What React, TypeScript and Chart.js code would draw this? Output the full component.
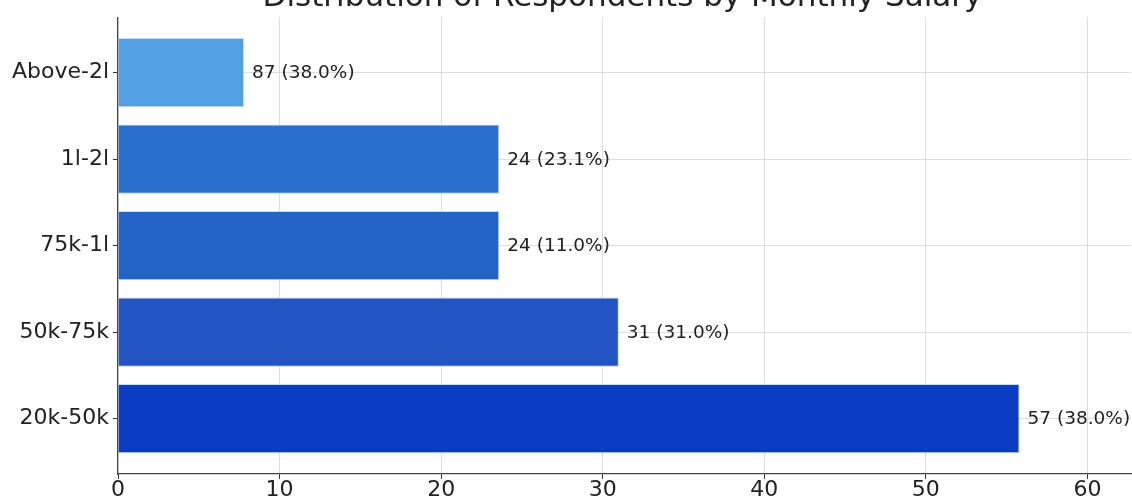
import React, { useEffect, useRef } from "react";
import { Chart, registerables } from "chart.js";

Chart.register(...registerables);

// bottom-to-top order (index 0 at the bottom)
const categories = ["20k-50k", "50k-75k", "75k-1l", "1l-2l", "Above-2l"];
const barValues = [55.8, 31.0, 23.6, 23.6, 7.8];
const labelCounts = [57, 31, 24, 24, 87];
const labelPercents = ["38.0%", "31.0%", "11.0%", "23.1%", "38.0%"];
const barColors = ["#0A3CC3", "#2255C3", "#2564C7", "#2A6FCB", "#52A0E3"];
const xTicks = [0, 10, 20, 30, 40, 50, 60];
const titleText = "Distribution of Respondents by Monthly Salary";

const FONT = "'DejaVu Sans', 'Noto Sans', sans-serif";

export default function App() {
  const ref = useRef<HTMLCanvasElement | null>(null);

  useEffect(() => {
    if (!ref.current) return;
    const titlePlugin = {
      id: "cutTitle",
      afterDraw(chart: any) {
        const { ctx, chartArea } = chart;
        ctx.save();
        ctx.font = `31px ${FONT}`;
        ctx.fillStyle = "#222";
        ctx.textAlign = "center";
        ctx.textBaseline = "alphabetic";
        ctx.fillText(titleText, (chartArea.left + chartArea.right) / 2 - 2, 6);
        ctx.restore();
      },
    };
    const barLabelPlugin = {
      id: "barLabels",
      afterDatasetsDraw(chart: any) {
        const { ctx } = chart;
        const meta = chart.getDatasetMeta(0);
        ctx.save();
        ctx.font = `18.5px ${FONT}`;
        ctx.fillStyle = "#222";
        ctx.textAlign = "left";
        ctx.textBaseline = "middle";
        meta.data.forEach((el: any, i: number) => {
          ctx.fillText(`${labelCounts[i]} (${labelPercents[i]})`, el.x + 8, el.y + 1);
        });
        ctx.restore();
      },
    };

    const chart = new Chart(ref.current, {
      type: "bar",
      data: {
        datasets: [
          {
            data: barValues.map((v, i) => ({ x: v, y: i })),
            backgroundColor: barColors,
            borderColor: "rgba(190,215,250,0.9)",
            borderWidth: 1,
            barPercentage: 1,
            categoryPercentage: 0.8,
          },
        ],
      },
      options: {
        indexAxis: "y",
        animation: false,
        responsive: false,
        layout: { padding: { top: 15, right: 1, left: 0, bottom: 0 } },
        plugins: {
          legend: { display: false },
          title: { display: false },
          tooltip: { enabled: false },
        },
        scales: {
          x: {
            type: "linear",
            min: 0,
            max: 62.7,
            afterFit(scale: any) {
              scale.height = 24;
            },
            afterBuildTicks(scale: any) {
              scale.ticks = xTicks.map((v) => ({ value: v }));
            },
            ticks: {
              color: "#222",
              font: { family: FONT, size: 22 },
              padding: -2,
              maxRotation: 0,
            },
            grid: {
              color: "#dddddd",
              lineWidth: 1,
              drawTicks: true,
              tickLength: 5,
              tickColor: "#333",
            },
            border: { display: true, color: "#444", width: 1.2 },
          },
          y: {
            type: "linear",
            min: -0.64,
            max: 4.64,
            offset: false,
            afterFit(scale: any) {
              scale.width = 118;
            },
            afterBuildTicks(scale: any) {
              scale.ticks = categories.map((_, i) => ({ value: i }));
            },
            ticks: {
              color: "#222",
              font: { family: FONT, size: 22 },
              padding: 4,
              callback: (v: any) => categories[v] ?? "",
            },
            grid: {
              color: "#dddddd",
              lineWidth: 1,
              offset: false,
              drawTicks: true,
              tickLength: 5,
              tickColor: "#333",
            },
            border: { display: true, color: "#444", width: 1.2 },
          },
        },
      },
      plugins: [titlePlugin, barLabelPlugin],
    } as any);

    return () => chart.destroy();
  }, []);

  return (
    <div style={{ position: "absolute", left: 0, top: 0, width: 1132, height: 498, background: "#fff" }}>
      <canvas ref={ref} width={1132} height={498} style={{ display: "block" }} />
    </div>
  );
}
